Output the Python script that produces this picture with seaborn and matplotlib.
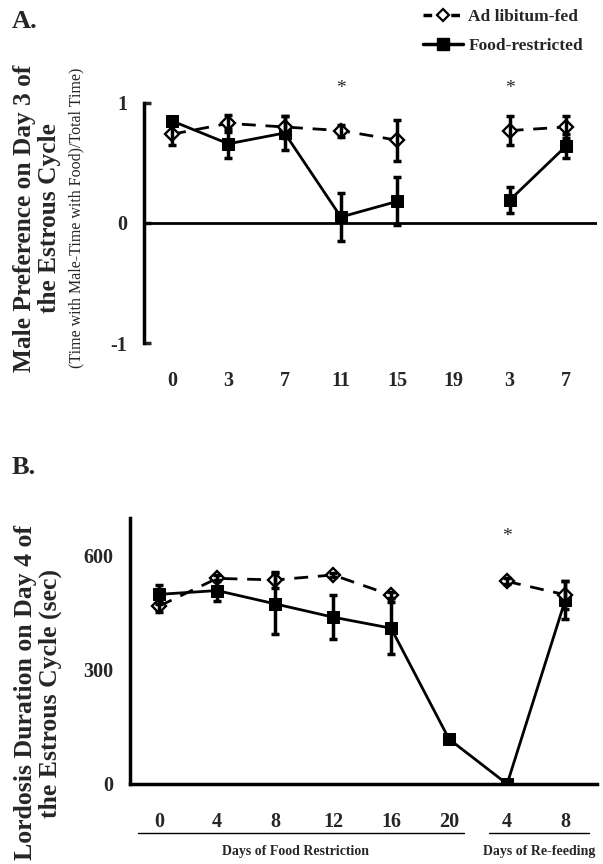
import numpy as np
import pandas as pd
import matplotlib
matplotlib.use("Agg")
import matplotlib.pyplot as plt
import matplotlib.transforms as mtrans
from matplotlib.lines import Line2D
import seaborn as sns

groups = ["Ad libitum-fed", "Food-restricted"]

# Panel A: male preference (day of food restriction, then days of re-feeding)
a_days = ["0", "3", "7", "11", "15", "19", "3", "7"]
a_adlib = [0.74, 0.83, 0.80, 0.77, 0.69, np.nan, 0.77, 0.80]
a_adlib_err = [0.09, 0.07, 0.09, 0.05, 0.17, np.nan, 0.12, 0.09]
a_restr = [0.85, 0.66, 0.75, 0.05, 0.18, np.nan, 0.19, 0.64]
a_restr_err = [0.03, 0.12, 0.14, 0.20, 0.20, np.nan, 0.11, 0.10]
a_stars = [3, 6]

# Panel B: lordosis duration (sec)
b_days = ["0", "4", "8", "12", "16", "20", "4", "8"]
b_adlib = [468, 541, 537, 550, 497, np.nan, 533, 498]
b_adlib_err = [15, 8, 20, 6, 8, np.nan, 8, 37]
b_restr = [499, 509, 474, 439, 410, 118, 0, 483]
b_restr_err = [25, 28, 80, 58, 68, 0, 0, 50]
b_stars = [6]


def to_frame(values, group):
    """ Long table with a segment id that breaks the line at missing days """
    rows = []
    seg = 0
    for i, v in enumerate(values):
        if np.isnan(v):
            seg += 1
            continue
        rows.append({"pos": i, "value": v, "group": group, "segment": f"{group}-{seg}"})
    return pd.DataFrame(rows)


def draw_series(ax, values, errors, group):
    df = to_frame(values, group)
    if group == groups[0]:
        style = dict(marker="D", mfc="white", mec="black", mew=1.7, ms=7,
                     linestyle=(0, (5, 3.5)), zorder=3)
    else:
        style = dict(marker="s", mfc="black", mec="black", ms=8.5,
                     linestyle="-", zorder=2)
    sns.lineplot(data=df, x="pos", y="value", units="segment", estimator=None,
                 color="black", lw=2, ax=ax, legend=False, **style)
    ax.errorbar(range(len(values)), values, yerr=errors, fmt="none", ecolor="black",
                elinewidth=2.5, capsize=3, capthick=2.5, zorder=4)


sns.set_theme(style="white")
plt.rcParams["font.family"] = ["Liberation Serif", "DejaVu Serif"]
plt.rcParams["font.weight"] = "bold"

fig = plt.figure(figsize=(6.03, 8.64), dpi=100)

# ---------- Panel A ----------
axA = fig.add_axes([0.2388, 0.603, 0.751, 0.2778])
draw_series(axA, a_adlib, a_adlib_err, groups[0])
draw_series(axA, a_restr, a_restr_err, groups[1])
axA.axhline(0, color="black", lw=2, zorder=1)
axA.set_xlim(-0.5, 7.55)
axA.set_ylim(-1, 1)
axA.set_xticks(range(len(a_days)))
axA.set_xticklabels(a_days)
axA.set_yticks([-1, 0, 1])
axA.set_yticklabels(["-1", "0", "1"])
for s in ["top", "right", "bottom"]:
    axA.spines[s].set_visible(False)
axA.spines["left"].set_linewidth(2.5)
axA.spines["left"].set_color("black")
axA.tick_params(axis="x", length=0, pad=20, labelsize=14.5)
axA.tick_params(axis="y", direction="in", length=5, width=2.5, pad=12, labelsize=14.5, left=True)
axA.set_xlabel("")
axA.set_ylabel("")
for i in a_stars:
    axA.text(i, 1.12, "*", ha="center", va="center", fontsize=14, fontweight="normal")

# ---------- Panel B ----------
axB = fig.add_axes([0.2156, 0.0926, 0.7745, 0.3079])
draw_series(axB, b_adlib, b_adlib_err, groups[0])
draw_series(axB, b_restr, b_restr_err, groups[1])
axB.set_xlim(-0.5, 7.55)
axB.set_ylim(0, 700)
axB.set_xticks(range(len(b_days)))
axB.set_xticklabels(b_days)
axB.set_yticks([0, 300, 600])
axB.set_yticklabels(["0", "300", "600"])
for s in ["top", "right"]:
    axB.spines[s].set_visible(False)
for s in ["left", "bottom"]:
    axB.spines[s].set_linewidth(2.5)
    axB.spines[s].set_color("black")
axB.spines["bottom"].set_zorder(1)
axB.tick_params(axis="x", length=0, pad=20, labelsize=14.5)
axB.tick_params(axis="y", length=0, pad=12, labelsize=14.5)
axB.set_xlabel("")
axB.set_ylabel("")
for i in b_stars:
    axB.text(i, 652, "*", ha="center", va="center", fontsize=14, fontweight="normal")

# group underlines below the x axis of panel B
trans = mtrans.blended_transform_factory(axB.transData, axB.transAxes)
axB.plot([-0.36, 5.26], [-0.184, -0.184], color="black", lw=1, transform=trans, clip_on=False)
axB.plot([5.68, 7.42], [-0.184, -0.184], color="black", lw=1, transform=trans, clip_on=False)
axB.text(2.35, -0.255, "Days of Food Restriction", transform=trans, ha="center", va="center", fontsize=10)
axB.text(6.55, -0.255, "Days of Re-feeding", transform=trans, ha="center", va="center", fontsize=10)

# ---------- labels ----------
fig.text(37 / 603, 1 - 218 / 864, "Male Preference on Day 3 of\nthe Estrous Cycle", rotation=90,
         ha="center", va="center", fontsize=18.3, multialignment="center", linespacing=1.1)
fig.text(76 / 603, 1 - 218 / 864, "(Time with Male-Time with Food)/Total Time)", rotation=90,
         ha="center", va="center", fontsize=11.5, fontweight="normal")
fig.text(38 / 603, 1 - 693 / 864, "Lordosis Duration on Day 4 of\nthe Estrous Cycle (sec)", rotation=90,
         ha="center", va="center", fontsize=18.5, multialignment="center", linespacing=1.1)
fig.text(12 / 603, 1 - 22 / 864, "A.", ha="left", va="center", fontsize=19)
fig.text(12 / 603, 1 - 468 / 864, "B.", ha="left", va="center", fontsize=19)

# legend
handles = [
    Line2D([], [], color="black", lw=2.5, linestyle=(0, (2.5, 1.5)), marker="D", mfc="white",
           mec="black", mew=1.6, ms=6.5),
    Line2D([], [], color="black", lw=2.5, linestyle="-", marker="s", mfc="black", ms=8),
]
fig.legend(handles, groups, loc="upper right", bbox_to_anchor=(590 / 603, 1 - 2 / 864),
           frameon=False, fontsize=12.5, handlelength=2.3, handletextpad=0.3, labelspacing=0.75,
           borderaxespad=0)

fig.savefig("out.png", dpi=100)
